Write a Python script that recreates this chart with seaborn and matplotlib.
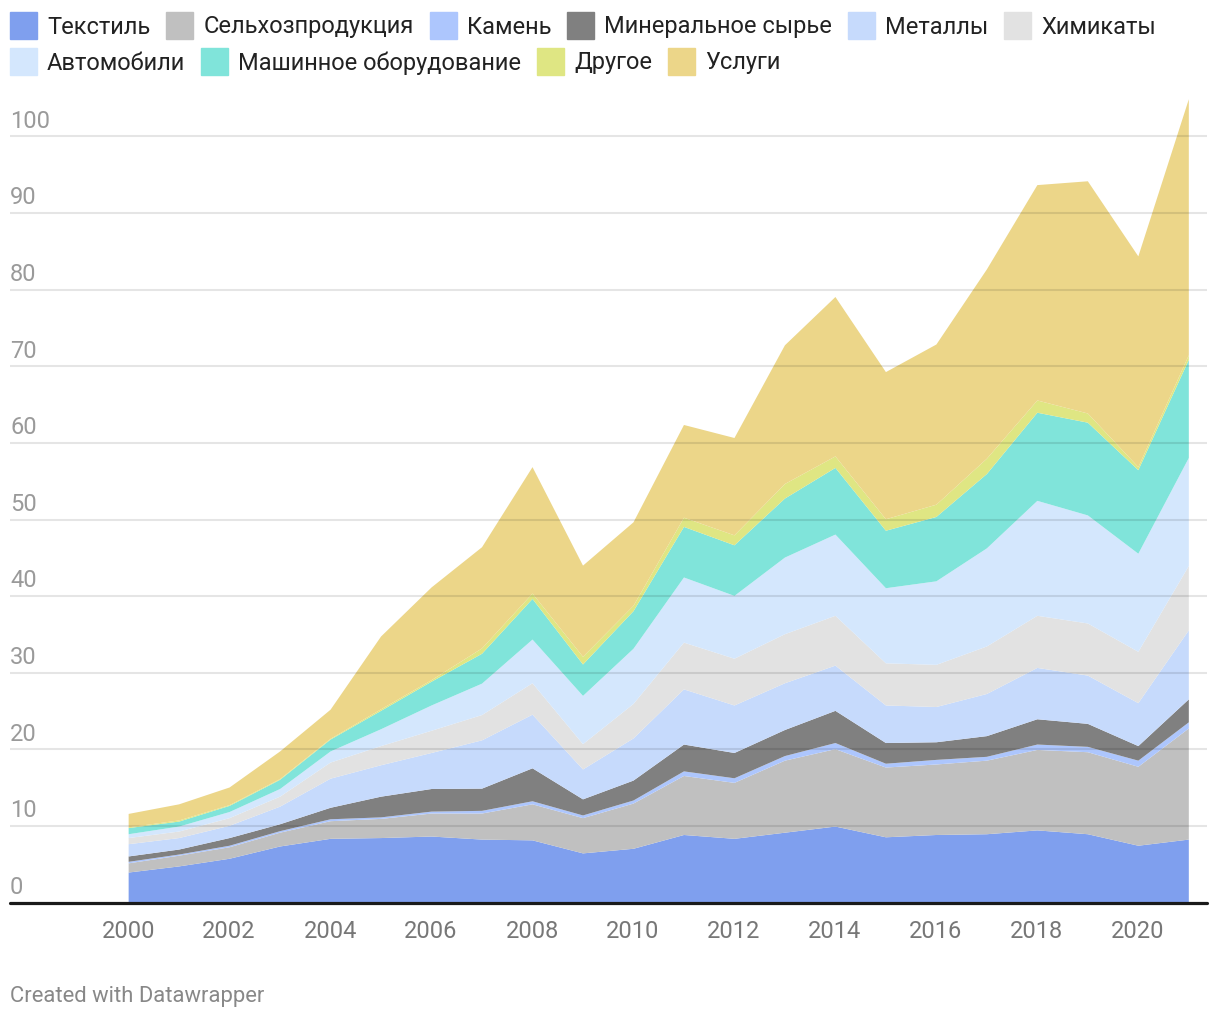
import matplotlib
matplotlib.use("Agg")
import matplotlib.pyplot as plt
import matplotlib.transforms as mtransforms
from matplotlib.patches import Rectangle
import pandas as pd
import seaborn as sns

years = list(range(2000, 2022))

textile = [4.0, 4.8, 5.8, 7.4, 8.4, 8.5, 8.7, 8.3, 8.2, 6.5, 7.1, 8.9, 8.4, 9.2, 10.0, 8.6, 8.9, 9.0, 9.5, 9.0, 7.5, 8.3]
agri = [1.2, 1.4, 1.5, 1.8, 2.3, 2.5, 3.0, 3.4, 4.7, 4.6, 5.9, 7.7, 7.3, 9.4, 10.1, 9.1, 9.2, 9.6, 10.5, 10.7, 10.3, 14.5]
stone = [0.2, 0.15, 0.2, 0.2, 0.25, 0.2, 0.25, 0.35, 0.4, 0.35, 0.4, 0.6, 0.6, 0.6, 0.8, 0.5, 0.6, 0.5, 0.7, 0.7, 0.8, 0.8]
minerals = [0.7, 0.65, 1.0, 0.9, 1.5, 2.7, 2.95, 2.9, 4.3, 2.1, 2.6, 3.5, 3.3, 3.4, 4.2, 2.7, 2.3, 2.7, 3.3, 3.0, 1.9, 3.0]
metals = [1.6, 1.5, 1.6, 2.3, 3.8, 4.1, 4.7, 6.3, 7.0, 3.9, 5.5, 7.2, 6.2, 6.1, 5.9, 4.9, 4.6, 5.5, 6.7, 6.3, 5.6, 9.0]
chemicals = [0.8, 0.85, 1.0, 1.3, 2.1, 2.5, 2.9, 3.3, 4.1, 3.3, 4.5, 6.1, 6.1, 6.4, 6.5, 5.5, 5.5, 6.2, 6.8, 6.8, 6.7, 8.4]
autos = [0.5, 0.65, 0.8, 1.0, 1.45, 2.2, 3.3, 4.1, 5.7, 6.3, 7.2, 8.5, 8.2, 10.0, 10.6, 9.8, 10.9, 12.8, 15.0, 14.1, 12.8, 14.1]
machinery = [0.8, 0.65, 0.8, 1.2, 1.55, 2.4, 3.1, 3.9, 5.3, 4.1, 4.9, 6.6, 6.6, 7.7, 8.7, 7.5, 8.4, 9.7, 11.5, 12.1, 10.9, 12.8]
other = [0.1, 0.15, 0.1, 0.1, 0.1, 0.2, 0.2, 0.7, 0.7, 1.0, 0.7, 1.2, 1.3, 1.9, 1.5, 1.5, 1.6, 2.0, 1.6, 1.2, 0.4, 0.6]
services = [1.75, 2.1, 2.3, 3.6, 3.8, 9.5, 12.1, 13.2, 16.5, 11.9, 10.9, 12.1, 12.7, 18.1, 20.8, 19.2, 20.9, 24.7, 28.1, 30.3, 27.5, 33.4]

labels = ["Текстиль", "Сельхозпродукция", "Камень", "Минеральное сырье", "Металлы",
          "Химикаты", "Автомобили", "Машинное оборудование", "Другое", "Услуги"]
colors = ["#7f9fee", "#c0c0c0", "#adc6fd", "#808080", "#c6dafc",
          "#e2e2e2", "#d4e7fd", "#80e4da", "#dfe683", "#ecd689"]

df = pd.DataFrame(
    dict(zip(labels, [textile, agri, stone, minerals, metals, chemicals,
                      autos, machinery, other, services])),
    index=years,
)

sns.set_theme(style="white")
plt.rcParams["font.family"] = ["Roboto", "DejaVu Sans"]

W, H = 1220, 1020
fig = plt.figure(figsize=(W / 100, H / 100), dpi=100)
base_px, top_px = 903.7, 99
ax = fig.add_axes([10 / W, (H - base_px) / H, 1197 / W, (base_px - top_px) / H])

ax.stackplot(df.index, df.T.values, colors=colors, linewidth=0, zorder=2)
ax.set_xlim(1997.66, 2021.37)
ax.set_ylim(0, 105)

# gridlines on top of the areas, like the original
for v in range(10, 101, 10):
    ax.axhline(v, color="black", alpha=0.1, lw=1.5, zorder=3)
ax.axhline(0, color="#1a1a1a", lw=2.3, zorder=4, clip_on=False)

trans = mtransforms.blended_transform_factory(ax.transAxes, ax.transData)
for v in range(0, 101, 10):
    ax.annotate(str(v), xy=(0, v), xycoords=trans, xytext=(0, 7),
                textcoords="offset points", ha="left", va="baseline",
                fontsize=17, color="#9a9a9a")

ax.set_yticks([])
ax.set_xticks(range(2000, 2021, 2))
ax.tick_params(axis="x", length=0, pad=12, labelsize=17, labelcolor="#777777")
sns.despine(ax=ax, left=True, bottom=True)

# flowing legend across the top
renderer = fig.canvas.get_renderer()
x, row_y, sw = 10, 26, 27
for lab, col in zip(labels, colors):
    t = fig.text(0, 0, lab, fontsize=17, color="#222222", va="center", ha="left")
    tw = t.get_window_extent(renderer).width
    if x + sw + 10 + tw > W - 5:
        x, row_y = 10, row_y + 36
    fig.patches.append(Rectangle((x / W, 1 - (row_y + sw / 2) / H), sw / W, sw / H,
                                 transform=fig.transFigure, color=col, figure=fig))
    t.set_position(((x + sw + 10) / W, 1 - (row_y + 1) / H))
    x += sw + 10 + tw + 16

fig.text(10 / W, 1 - 997 / H, "Created with Datawrapper", fontsize=15.8,
         color="#888888", va="center", ha="left")

fig.savefig("out.png", dpi=100)
